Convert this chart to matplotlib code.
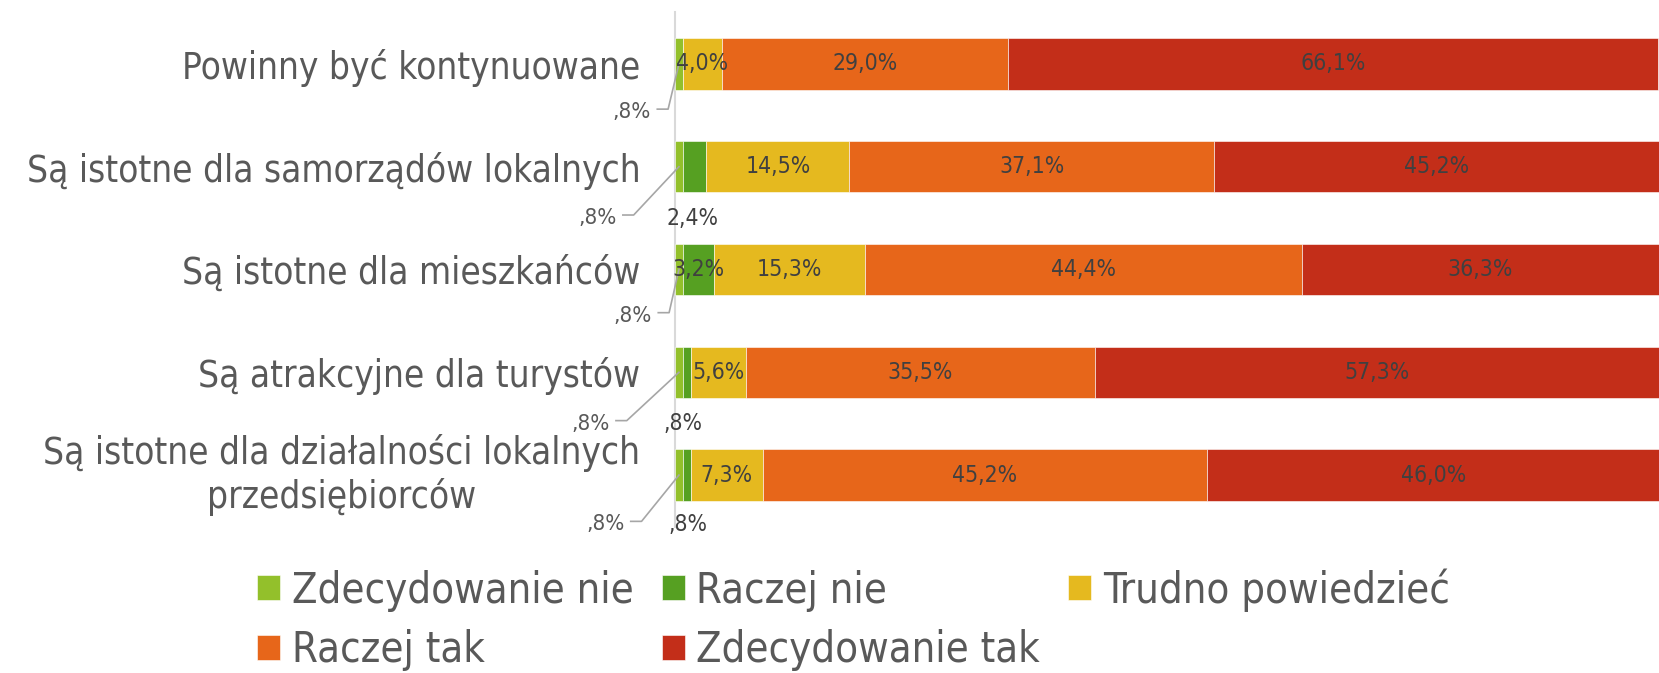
import matplotlib.pyplot as plt
import matplotlib.transforms as mtransforms

plt.rcParams['font.family'] = ['DejaVu Sans']
plt.rcParams['font.stretch'] = 'condensed'

categories = ["Powinny być kontynuowane",
              "Są istotne dla samorządów lokalnych",
              "Są istotne dla mieszkańców",
              "Są atrakcyjne dla turystów",
              "Są istotne dla działalności lokalnych\nprzedsiębiorców"]
series = ["Zdecydowanie nie", "Raczej nie", "Trudno powiedzieć", "Raczej tak", "Zdecydowanie tak"]
zdec_nie = [0.8, 0.8, 0.8, 0.8, 0.8]
raczej_nie = [0.0, 2.4, 3.2, 0.8, 0.8]
trudno = [4.0, 14.5, 15.3, 5.6, 7.3]
raczej_tak = [29.0, 37.1, 44.4, 35.5, 45.2]
zdec_tak = [66.1, 45.2, 36.3, 57.3, 46.0]
colors = ["#93C02B", "#56A022", "#E5B91F", "#E7661A", "#C32E19"]

# where the small labels sit (outside the bars)
zn_text_x = [-4.4, -7.9, -4.3, -8.6, -7.1]
zn_text_dy = [0.47, 0.5, 0.45, 0.5, 0.48]
rn_text_x = [None, 1.8, None, 0.8, 1.3]
rn_text_dy = [None, 0.5, None, 0.5, 0.48]

def fmt(v):
    s = f"{v:.1f}".replace('.', ',')
    if s.startswith('0'):
        s = s[1:]
    return s + '%'

fig = plt.figure(figsize=(16.59, 6.73), dpi=100)
ax = fig.add_axes([675/1659, 1-526.5/673, 1-675/1659, (526.5-12.5)/673])
data = [zdec_nie, raczej_nie, trudno, raczej_tak, zdec_tak]
ypos = list(range(len(categories)))
left = [0]*len(categories)
handles = []
for k, (vals, name, c) in enumerate(zip(data, series, colors)):
    h = ax.barh(ypos, vals, left=left, height=0.5, color=c, edgecolor='white', linewidth=0.4, label=name)
    handles.append(h)
    if k >= 2:
        for i, (l, v) in enumerate(zip(left, vals)):
            ax.text(l + v/2, i, fmt(v), ha='center', va='center', fontsize=16.5, color='#404040')
    left = [l+v for l, v in zip(left, vals)]

# Zdecydowanie nie - labels with leader lines
for i, v in enumerate(zdec_nie):
    tx, ty = zn_text_x[i], i + zn_text_dy[i]
    ax.text(tx, ty, fmt(v), ha='center', va='center', fontsize=16, color='#595959', clip_on=False)
    ax.plot([tx + 2.6, tx + 3.7, v/2], [ty - 0.03, ty - 0.03, i], color='#A6A6A6', lw=1.2, clip_on=False)

# Raczej nie labels
for i, v in enumerate(raczej_nie):
    if v == 0:
        continue
    if rn_text_x[i] is None:
        ax.text(zdec_nie[i] + v/2, i, fmt(v), ha='center', va='center', fontsize=16.5, color='#404040')
    else:
        ax.text(rn_text_x[i], i + rn_text_dy[i], fmt(v), ha='center', va='center', fontsize=16.5, color='#404040')

ax.set_xlim(0, 100)
ax.set_ylim(4.5, -0.5)
ax.set_yticks(ypos)
ax.set_yticklabels(categories, fontsize=26.5, color='#595959', multialignment='center')
ax.tick_params(axis='y', length=0, pad=25)
ax.set_xticks([])
# two-line label sits a bit higher in the original
lab = ax.get_yticklabels()[-1]
lab.set_transform(lab.get_transform() + mtransforms.ScaledTranslation(0, 7/100, fig.dpi_scale_trans))
for s in ['top', 'right', 'bottom']:
    ax.spines[s].set_visible(False)
ax.spines['left'].set_color('#D9D9D9')
ax.spines['left'].set_linewidth(1.5)
ax.spines['left'].set_zorder(0)

order = [0, 3, 1, 4, 2]
leg = fig.legend([handles[j] for j in order], [series[j] for j in order], ncol=3,
                 loc='upper left', bbox_to_anchor=(257/1659, 1-568/673), frameon=False,
                 fontsize=30, handlelength=0.55, handleheight=0.55, handletextpad=0.28,
                 columnspacing=0.68, labelspacing=0.42, borderpad=0, borderaxespad=0)
for t in leg.get_texts():
    t.set_color('#595959')

fig.savefig('out.png')
